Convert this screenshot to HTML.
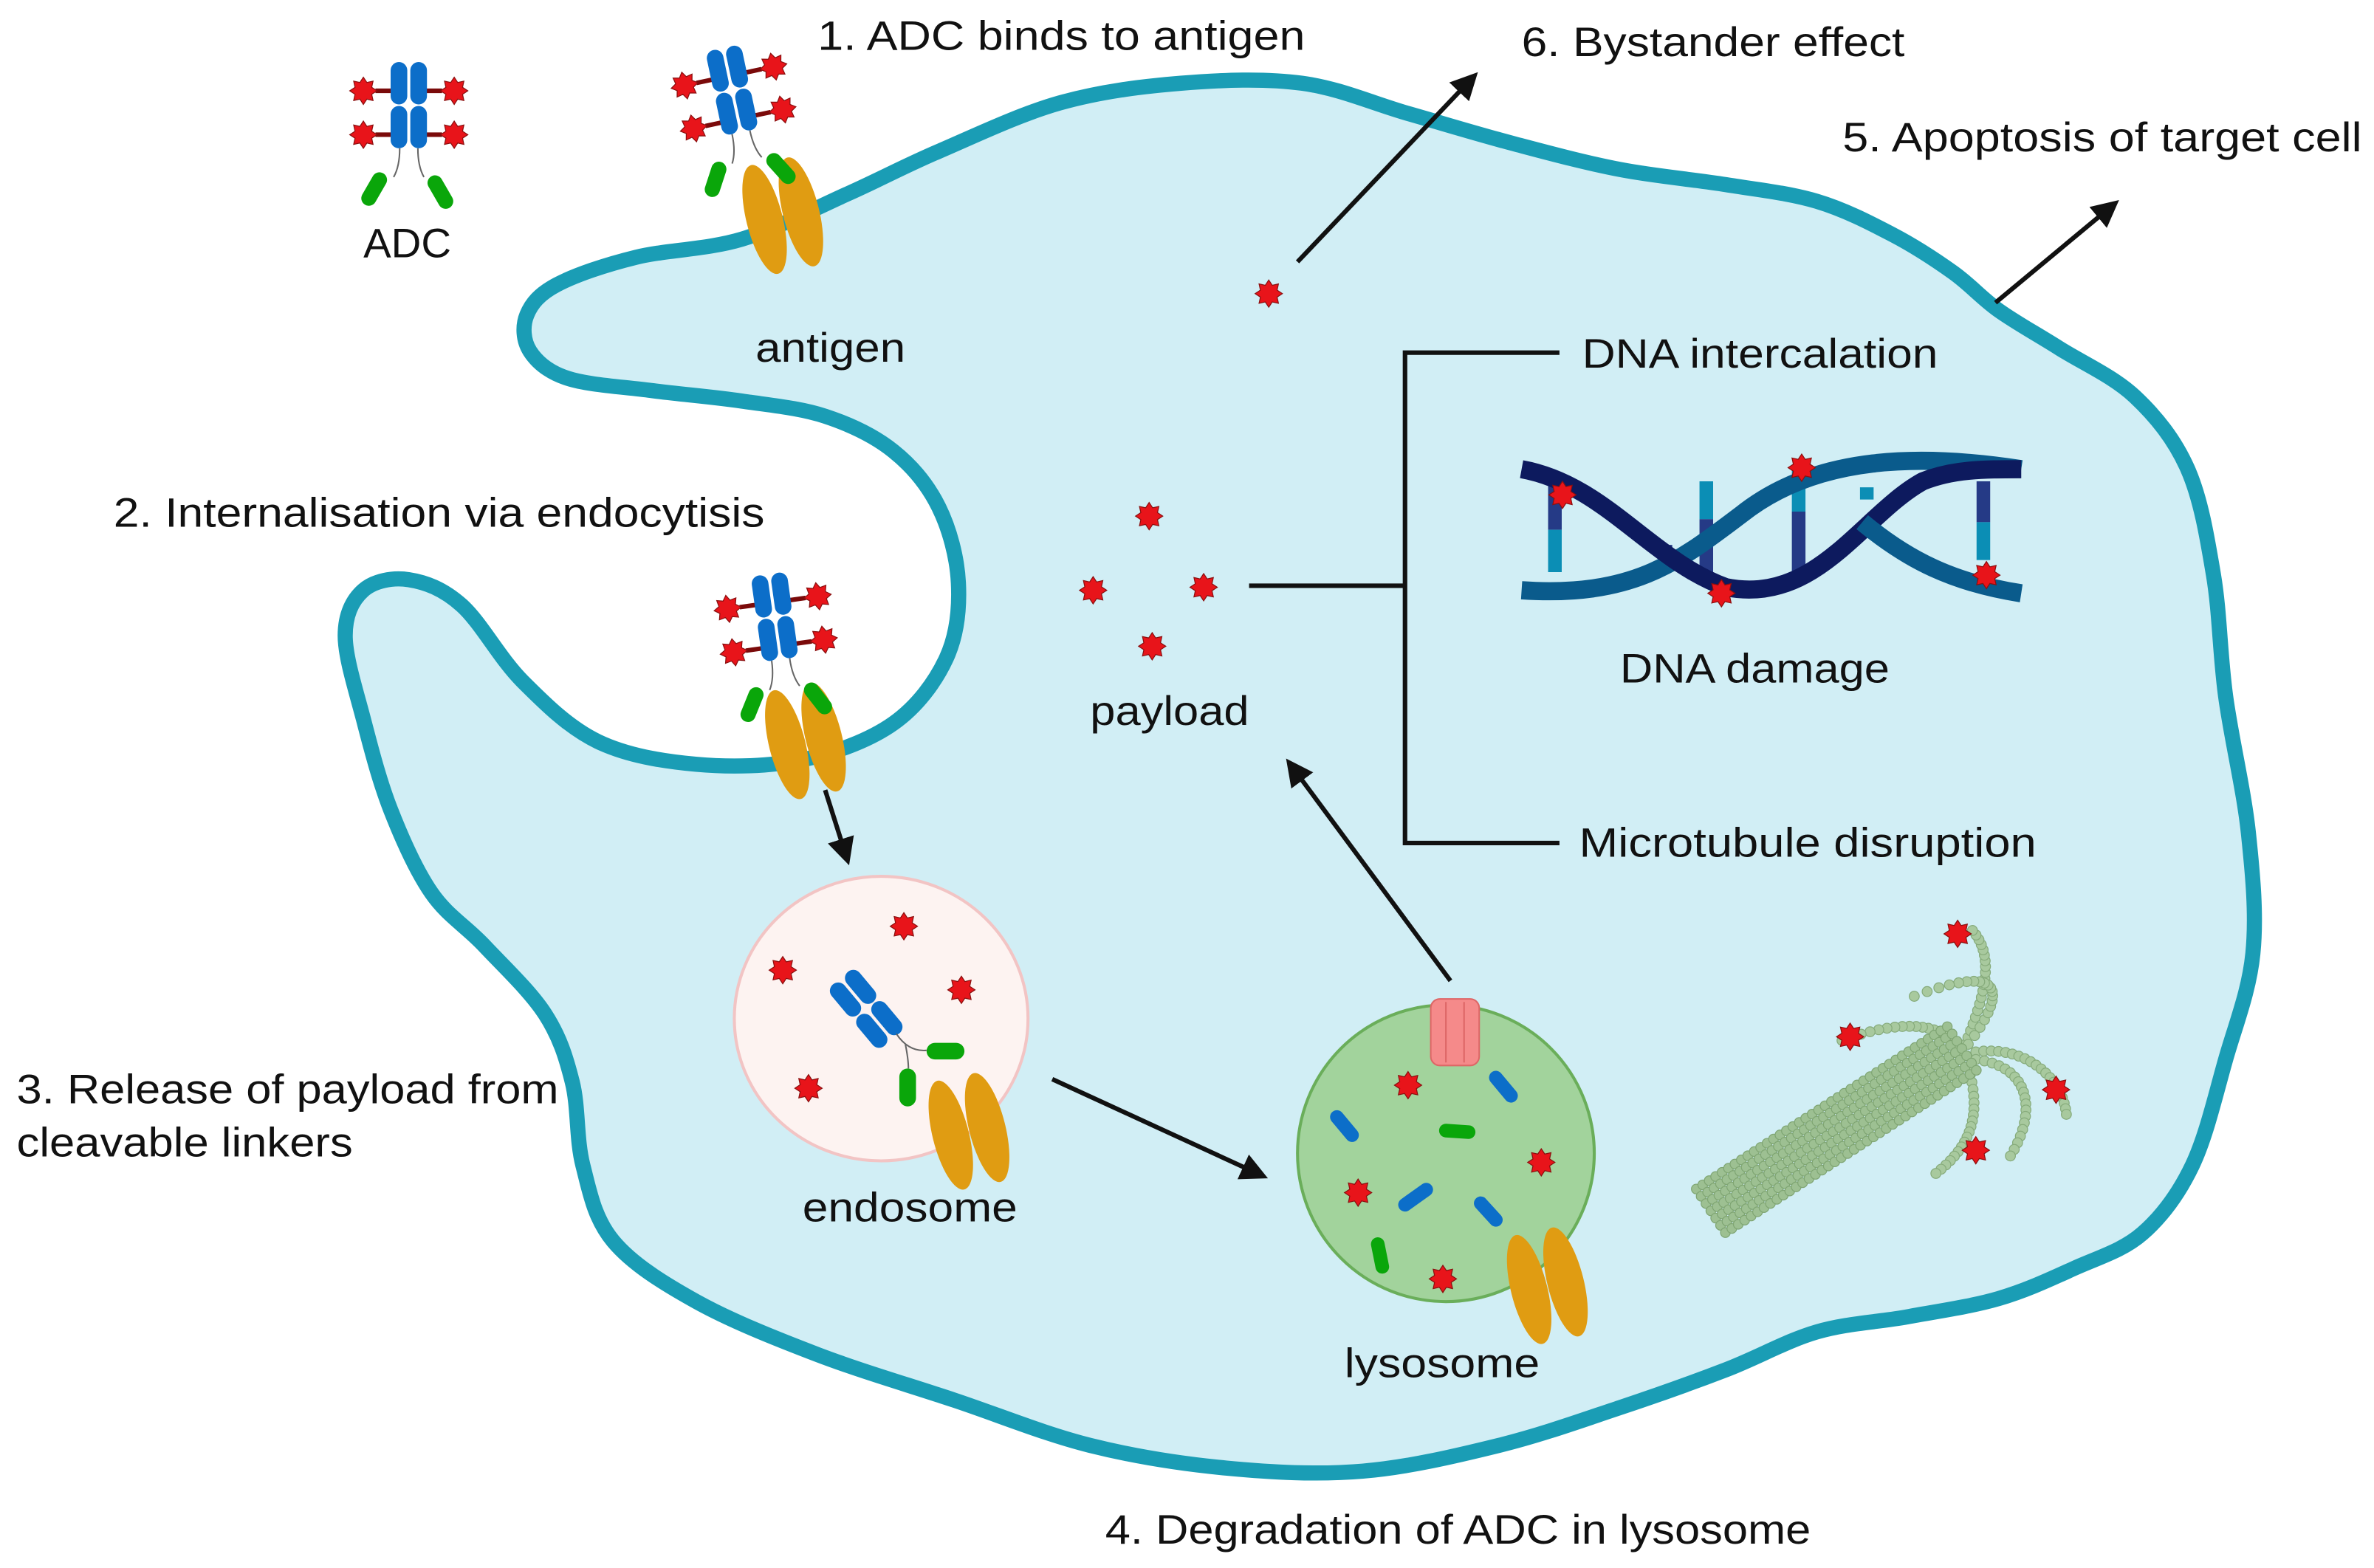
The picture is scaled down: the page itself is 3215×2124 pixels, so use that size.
<!DOCTYPE html>
<html><head><meta charset="utf-8"><style>
html,body{margin:0;padding:0;background:#fff;}
svg{display:block;}
text{font-family:"Liberation Sans",sans-serif;fill:#111;}
</style></head><body>
<svg id="s" width="3215" height="2124" viewBox="0 0 1568 1036" preserveAspectRatio="none" xmlns="http://www.w3.org/2000/svg">
<defs>
<marker id="ah" markerWidth="6" markerHeight="6" refX="4" refY="3" orient="auto" markerUnits="strokeWidth"><path d="M0,0 L6,3 L0,6 z" fill="#111"/></marker>
<g id="star"><polygon points="0,-9 2.3,-5.5 6.4,-6.4 5.5,-2.3 9,0 5.5,2.3 6.4,6.4 2.3,5.5 0,9 -2.3,5.5 -6.4,6.4 -5.5,2.3 -9,0 -5.5,-2.3 -6.4,-6.4 -2.3,-5.5" fill="#e8141a" stroke="#8a0f0f" stroke-width="0.6"/></g>
<g id="ab">
 <line x1="-22" y1="-12" x2="-8" y2="-12" stroke="#7a0a0a" stroke-width="3"/>
 <line x1="22" y1="-12" x2="8" y2="-12" stroke="#7a0a0a" stroke-width="3"/>
 <line x1="-22" y1="17" x2="-8" y2="17" stroke="#7a0a0a" stroke-width="3"/>
 <line x1="22" y1="17" x2="8" y2="17" stroke="#7a0a0a" stroke-width="3"/>
 <rect x="-12" y="-31" width="11" height="28" rx="5.5" fill="#0c6ec9"/>
 <rect x="1" y="-31" width="11" height="28" rx="5.5" fill="#0c6ec9"/>
 <rect x="-12" y="-2" width="11" height="28" rx="5.5" fill="#0c6ec9"/>
 <rect x="1" y="-2" width="11" height="28" rx="5.5" fill="#0c6ec9"/>
 <path d="M-6,26 Q-6,38 -10,45 M6,26 Q6,38 10,45" stroke="#666" stroke-width="1" fill="none"/>
 <rect x="-6" y="0" width="10" height="24" rx="5" fill="#0aa60a" transform="translate(-16,43) rotate(30)"/>
 <rect x="-4" y="0" width="10" height="24" rx="5" fill="#0aa60a" transform="translate(14,45) rotate(-30)"/>
 <use href="#star" x="-30" y="-12"/><use href="#star" x="30" y="-12"/>
 <use href="#star" x="-30" y="17"/><use href="#star" x="30" y="17"/>
</g>
<g id="ag">
 <ellipse cx="0" cy="0" rx="12" ry="37" fill="#e09c12" transform="rotate(-14)"/>
 <ellipse cx="24" cy="-5" rx="12" ry="37" fill="#e09c12" transform="translate(24,-5) rotate(-14) translate(-24,5)"/>
</g>
</defs>
<path id="cell" fill="#d1eef5" stroke="#1a9db5" stroke-width="10" stroke-linejoin="round"/>

<g font-size="27" lengthAdjust="spacingAndGlyphs">
<text x="540" y="33" font-size="27" textLength="322" lengthAdjust="spacingAndGlyphs">1.  ADC binds to antigen</text>
<text x="1005" y="37" font-size="27" textLength="253" lengthAdjust="spacingAndGlyphs">6. Bystander effect</text>
<text x="1217" y="100" font-size="27" textLength="343" lengthAdjust="spacingAndGlyphs">5. Apoptosis of target cell</text>
<text x="240" y="170" font-size="27" textLength="58" lengthAdjust="spacingAndGlyphs">ADC</text>
<text x="499" y="239" font-size="27" textLength="99" lengthAdjust="spacingAndGlyphs">antigen</text>
<text x="75" y="348" font-size="27" textLength="430" lengthAdjust="spacingAndGlyphs">2. Internalisation via endocytisis</text>
<text x="1045" y="243" font-size="27" textLength="235" lengthAdjust="spacingAndGlyphs">DNA intercalation</text>
<text x="1070" y="451" font-size="27" textLength="178" lengthAdjust="spacingAndGlyphs">DNA damage</text>
<text x="720" y="479" font-size="27" textLength="105" lengthAdjust="spacingAndGlyphs">payload</text>
<text x="1043" y="566" font-size="27" textLength="302" lengthAdjust="spacingAndGlyphs">Microtubule disruption</text>
<text x="11" y="729" font-size="27" textLength="358" lengthAdjust="spacingAndGlyphs">3. Release of payload from</text>
<text x="11" y="764" font-size="27" textLength="222" lengthAdjust="spacingAndGlyphs">cleavable linkers</text>
<text x="530" y="807" font-size="27" textLength="142" lengthAdjust="spacingAndGlyphs">endosome</text>
<text x="888" y="910" font-size="27" textLength="129" lengthAdjust="spacingAndGlyphs">lysosome</text>
<text x="730" y="1020" font-size="27" textLength="466" lengthAdjust="spacingAndGlyphs">4. Degradation of ADC in lysosome</text>
</g>

<use href="#ab" transform="translate(270,72)"/>
<use href="#ag" transform="translate(505,145)"/>
<use href="#ab" transform="translate(484,62) rotate(-12)"/>
<use href="#ag" transform="translate(520,492)"/>
<use href="#ab" transform="translate(512,410) rotate(-8)"/>

<g stroke="#111" stroke-width="3" fill="none">
<line x1="857" y1="173" x2="972" y2="52" marker-end="url(#ah)"/>
<line x1="1318" y1="200" x2="1395" y2="136" marker-end="url(#ah)"/>
<line x1="545" y1="522" x2="559" y2="566" marker-end="url(#ah)"/>
<line x1="695" y1="713" x2="832" y2="776" marker-end="url(#ah)"/>
<line x1="958" y1="648" x2="853" y2="506" marker-end="url(#ah)"/>
<path d="M825,387 H928 M1030,233 H928 V557 H1030" stroke-width="3"/>
</g>

<use href="#star" x="838" y="194"/>
<use href="#star" x="759" y="341"/>
<use href="#star" x="722" y="390"/>
<use href="#star" x="795" y="388"/>
<use href="#star" x="761" y="427"/>

<g>
 <g stroke-width="9">
  <line x1="1027" y1="318" x2="1027" y2="350" stroke="#253a86"/><line x1="1027" y1="350" x2="1027" y2="378" stroke="#0b8eb5"/>
  <line x1="1100" y1="360" x2="1100" y2="378" stroke="#253a86"/>
  <line x1="1127" y1="318" x2="1127" y2="343" stroke="#0b8eb5"/><line x1="1127" y1="343" x2="1127" y2="385" stroke="#253a86"/>
  <line x1="1188" y1="310" x2="1188" y2="338" stroke="#0b8eb5"/><line x1="1188" y1="338" x2="1188" y2="380" stroke="#253a86"/>
  <line x1="1233" y1="322" x2="1233" y2="330" stroke="#0b8eb5"/>
  <line x1="1310" y1="318" x2="1310" y2="345" stroke="#253a86"/><line x1="1310" y1="345" x2="1310" y2="370" stroke="#0b8eb5"/>
 </g>
 <path d="M1005,390 C1080,395 1110,370 1150,340 C1200,300 1270,300 1335,310" stroke="#0a5b8c" stroke-width="12" fill="none"/>
 <path d="M1005,310 C1060,320 1090,370 1140,388 C1200,400 1230,340 1270,318 C1290,310 1310,310 1335,310" stroke="#0d1a5e" stroke-width="12" fill="none"/>
 <path d="M1230,345 C1260,370 1290,385 1335,392" stroke="#0a5b8c" stroke-width="12" fill="none"/>
 <use href="#star" x="1032" y="327"/><use href="#star" x="1190" y="309"/><use href="#star" x="1137" y="392"/><use href="#star" x="1312" y="380"/>
</g>

<ellipse cx="582" cy="673" rx="97" ry="94" fill="#fdf3f1" stroke="#f2c4c4" stroke-width="2"/>
<use href="#star" x="597" y="612"/><use href="#star" x="517" y="641"/><use href="#star" x="635" y="654"/><use href="#star" x="534" y="719"/>
<g transform="translate(575,670) rotate(-40)">
 <rect x="-12" y="-31" width="11" height="26" rx="5.5" fill="#0c6ec9"/><rect x="1" y="-31" width="11" height="26" rx="5.5" fill="#0c6ec9"/>
 <rect x="-12" y="-4" width="11" height="26" rx="5.5" fill="#0c6ec9"/><rect x="1" y="-4" width="11" height="26" rx="5.5" fill="#0c6ec9"/>
</g>
<rect x="612" y="689" width="25" height="11" rx="5.5" fill="#0aa60a"/>
<rect x="594" y="706" width="11" height="25" rx="5.5" fill="#0aa60a"/>
<path d="M592,683 Q600,695 612,694 M598,690 Q600,700 600,706" stroke="#666" stroke-width="1" fill="none"/>
<use href="#ag" transform="translate(628,750)"/>

<circle cx="955" cy="762" r="98" fill="#a2d39c" stroke="#6aae5a" stroke-width="2"/>
<rect x="945" y="660" width="32" height="44" rx="6" fill="#f58a8a" stroke="#d66" stroke-width="1"/>
<line x1="955" y1="662" x2="955" y2="702" stroke="#d66"/><line x1="967" y1="662" x2="967" y2="702" stroke="#d66"/>
<use href="#star" x="930" y="717"/><use href="#star" x="1018" y="768"/><use href="#star" x="897" y="788"/><use href="#star" x="953" y="845"/>
<g stroke-linecap="round" stroke-width="9" fill="none">
 <line x1="988" y1="712" x2="998" y2="724" stroke="#0c6ec9"/>
 <line x1="883" y1="738" x2="893" y2="750" stroke="#0c6ec9"/>
 <line x1="928" y1="796" x2="942" y2="786" stroke="#0c6ec9"/>
 <line x1="978" y1="795" x2="988" y2="806" stroke="#0c6ec9"/>
 <line x1="955" y1="747" x2="970" y2="748" stroke="#0aa60a"/>
 <line x1="910" y1="822" x2="913" y2="837" stroke="#0aa60a"/>
</g>
<use href="#ag" transform="translate(1010,852)"/>

<g id="mt"></g>
</svg>
<script>
var pts=[[490,158],[560,128],[620,100],[700,68],[780,55],[860,55],[930,75],[1000,95],[1070,112],[1140,122],[1200,133],[1250,155],[1290,180],[1320,205],[1360,230],[1410,262],[1445,310],[1462,380],[1470,460],[1485,550],[1488,630],[1470,700],[1448,770],[1415,815],[1370,838],[1320,858],[1260,870],[1200,880],[1140,905],[1070,930],[990,955],[900,972],[810,970],[720,955],[630,925],[540,895],[460,860],[405,820],[385,770],[378,715],[360,670],[320,625],[285,590],[258,535],[240,475],[228,420],[240,390],[270,383],[305,400],[345,450],[395,490],[460,505],[530,502],[590,478],[625,435],[633,385],[620,335],[590,298],[545,275],[490,265],[430,258],[375,250],[350,232],[348,208],[368,188],[420,170]];
function cr(p){var n=p.length,d="M"+p[0][0]+","+p[0][1];for(var i=0;i<n;i++){var p0=p[(i-1+n)%n],p1=p[i],p2=p[(i+1)%n],p3=p[(i+2)%n];d+=" C"+(p1[0]+(p2[0]-p0[0])/6)+","+(p1[1]+(p2[1]-p0[1])/6)+" "+(p2[0]-(p3[0]-p1[0])/6)+","+(p2[1]-(p3[1]-p1[1])/6)+" "+p2[0]+","+p2[1];}return d+"Z";}
document.getElementById("cell").setAttribute("d",cr(pts));
var mt=document.getElementById("mt"),h="";
var fils=[[[1298,690],[1310,660],[1320,630],[1300,612]],[[1300,690],[1330,650],[1320,635],[1255,662]],[[1295,695],[1285,675],[1255,672],[1210,690]],[[1305,695],[1340,690],[1365,715],[1365,740]],[[1305,700],[1345,705],[1345,740],[1325,768]],[[1300,705],[1310,740],[1300,760],[1275,778]]];
fils.forEach(function(f){for(var t=0;t<=1;t+=0.05){var u=1-t;var x=u*u*u*f[0][0]+3*u*u*t*f[1][0]+3*u*t*t*f[2][0]+t*t*t*f[3][0];var y=u*u*u*f[0][1]+3*u*u*t*f[1][1]+3*u*t*t*f[2][1]+t*t*t*f[3][1];h+='<circle cx="'+x+'" cy="'+y+'" r="3.3" fill="#a8c99e" stroke="#86ab7b" stroke-width="0.6"/>';}});
for(var t=0;t<=1;t+=0.025){var x=1130+t*(1300-1130),y=800+t*(690-800);for(var k=-3;k<=3;k++){h+='<circle cx="'+(x+k*3.2)+'" cy="'+(y+k*4.8)+'" r="3.2" fill="#9dc092" stroke="#7fa573" stroke-width="0.6"/>';}}
[[1293,617],[1222,685],[1358,720],[1305,760]].forEach(function(s){h+='<use href="#star" x="'+s[0]+'" y="'+s[1]+'"/>';});
mt.innerHTML=h;
</script>
</body></html>
